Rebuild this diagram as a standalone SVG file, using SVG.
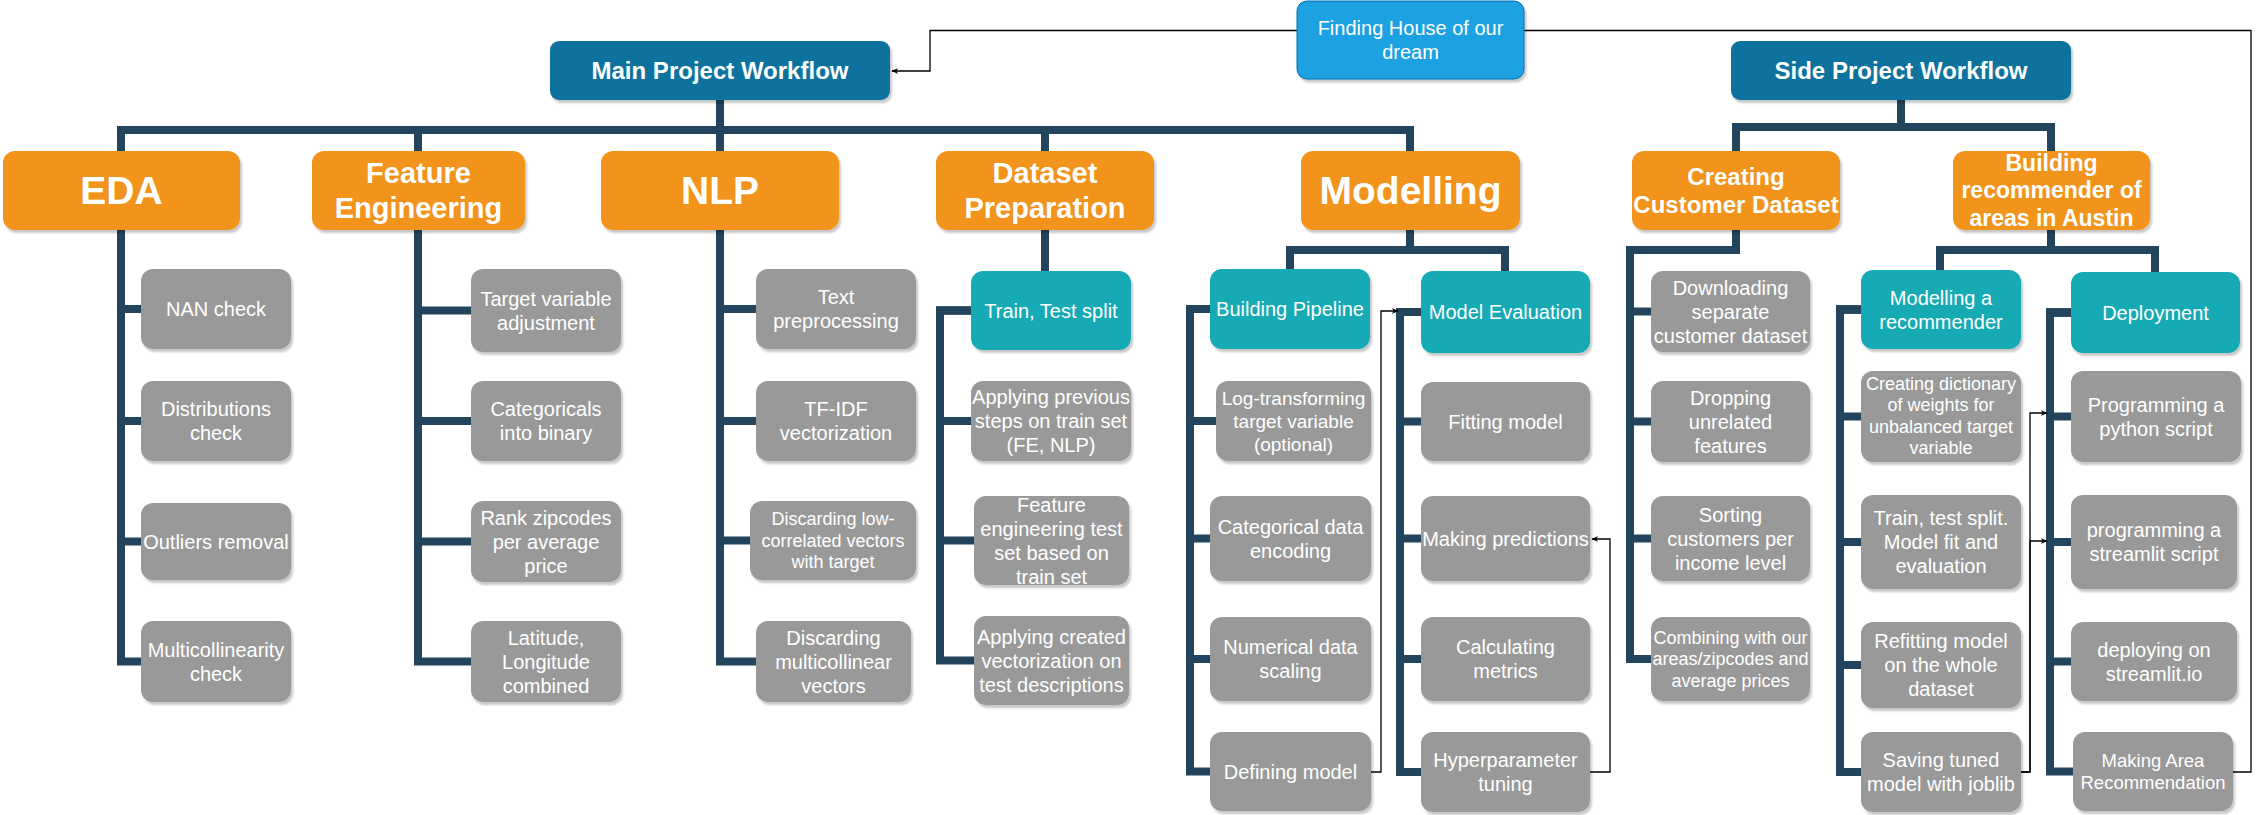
<svg xmlns="http://www.w3.org/2000/svg" width="2259" height="815" viewBox="0 0 2259 815">
<style>
.n{stroke:none;filter:url(#sh)}
.or{fill:#F2931E}
.bl{fill:#10739E}
.te{fill:#12AAB5}
.gr{fill:#999999}
.lb{fill:#1BA1E2;stroke:#006EAF;stroke-width:1}
text{font-family:"Liberation Sans",Arial,sans-serif;fill:#FFFFFF;text-anchor:middle}
.b{font-weight:bold}
.s20{font-size:20px}
.s18{font-size:18px}
.big{font-size:39px;font-weight:bold}
.mid{font-size:29px;font-weight:bold}
.hd{font-size:24px;font-weight:bold}
.c{fill:none;stroke:#23445D;stroke-width:8;stroke-linejoin:miter}
.th{fill:none;stroke:#000;stroke-width:1.3}
</style>
<defs>
<filter id="sh" x="-10%" y="-10%" width="125%" height="130%">
<feDropShadow dx="2" dy="3" stdDeviation="1.2" flood-color="#000" flood-opacity="0.22"/>
</filter>
<marker id="ar" viewBox="0 0 10 10" refX="9" refY="5" markerWidth="7" markerHeight="7" orient="auto" markerUnits="userSpaceOnUse">
<path d="M0,1 L10,5 L0,9 L3,5 Z" fill="#000"/>
</marker>
</defs>

<g id="connectors">
<!-- main tree -->
<path class="c" d="M720,100 V130 H121 V151"/>
<path class="c" d="M720,100 V130 H418 V151"/>
<path class="c" d="M720,100 V151"/>
<path class="c" d="M720,100 V130 H1045 V151"/>
<path class="c" d="M720,100 V130 H1410 V151"/>
<!-- side tree -->
<path class="c" d="M1901,100 V127 H1736 V151"/>
<path class="c" d="M1901,100 V127 H2051 V151"/>
<!-- EDA -->
<path class="c" d="M121,230 V309 H141"/>
<path class="c" d="M121,230 V421 H141"/>
<path class="c" d="M121,230 V541.5 H141"/>
<path class="c" d="M121,230 V661.5 H141"/>
<!-- FE -->
<path class="c" d="M418,230 V310.5 H471"/>
<path class="c" d="M418,230 V421 H471"/>
<path class="c" d="M418,230 V541.5 H471"/>
<path class="c" d="M418,230 V661.5 H471"/>
<!-- NLP -->
<path class="c" d="M720,230 V309 H756"/>
<path class="c" d="M720,230 V421 H756"/>
<path class="c" d="M720,230 V540.5 H750"/>
<path class="c" d="M720,230 V661.5 H756"/>
<!-- Dataset prep -->
<path class="c" d="M1045,230 V271"/>
<path class="c" d="M971,310.5 H940 V421 H971"/>
<path class="c" d="M971,310.5 H940 V540.5 H974"/>
<path class="c" d="M971,310.5 H940 V660.5 H974"/>
<!-- Modelling -->
<path class="c" d="M1410,230 V250 H1290 V269"/>
<path class="c" d="M1410,230 V250 H1505 V271"/>
<path class="c" d="M1210,309 H1190 V421 H1216"/>
<path class="c" d="M1210,309 H1190 V538.5 H1210"/>
<path class="c" d="M1210,309 H1190 V659 H1210"/>
<path class="c" d="M1210,309 H1190 V771.5 H1210"/>
<path class="c" d="M1421,312 H1400 V421.5 H1421"/>
<path class="c" d="M1421,312 H1400 V538.5 H1421"/>
<path class="c" d="M1421,312 H1400 V659 H1421"/>
<path class="c" d="M1421,312 H1400 V772 H1421"/>
<!-- Creating customer dataset -->
<path class="c" d="M1736,230 V250 H1630 V311.5 H1651"/>
<path class="c" d="M1736,230 V250 H1630 V421.5 H1651"/>
<path class="c" d="M1736,230 V250 H1630 V538.5 H1651"/>
<path class="c" d="M1736,230 V250 H1630 V659 H1651"/>
<!-- Building recommender -->
<path class="c" d="M2051,230 V250 H1940 V270"/>
<path class="c" d="M2051,230 V250 H2155 V272"/>
<path class="c" d="M1861,309.5 H1840 V416.5 H1861"/>
<path class="c" d="M1861,309.5 H1840 V542 H1861"/>
<path class="c" d="M1861,309.5 H1840 V665 H1861"/>
<path class="c" d="M1861,309.5 H1840 V772 H1861"/>
<path class="c" d="M2071,312.5 H2050 V416.5 H2071"/>
<path class="c" d="M2071,312.5 H2050 V542 H2071"/>
<path class="c" d="M2071,312.5 H2050 V661.5 H2071"/>
<path class="c" d="M2071,312.5 H2050 V771.5 H2073"/>
<!-- thin arrows -->
<path class="th" d="M1371,772 H1381 V311 H1398" marker-end="url(#ar)"/>
<path class="th" d="M1590,772 H1610 V539 H1592" marker-end="url(#ar)"/>
<path class="th" d="M2021,772 H2030 V413 H2047" marker-end="url(#ar)"/>
<path class="th" d="M2021,772 H2030 V541 H2047" marker-end="url(#ar)"/>
<path class="th" d="M2233,772 H2251 V30.5 H1524"/>
<path class="th" d="M1297,30.5 H930 V71 H892" marker-end="url(#ar)"/>
</g>

<g id="finding-house"><rect class="n lb" x="1297" y="1" width="227" height="78" rx="10"/>
<text class="s20" x="1410.5" y="34.5">Finding House of our</text><text class="s20" x="1410.5" y="58.5">dream</text></g>
<g id="main-workflow"><rect class="n bl" x="550" y="41" width="340" height="59" rx="9"/>
<text class="hd" x="720" y="79">Main Project Workflow</text></g>
<g id="side-workflow"><rect class="n bl" x="1731" y="41" width="340" height="59" rx="9"/>
<text class="hd" x="1901" y="79">Side Project Workflow</text></g>

<g id="eda"><rect class="n or" x="3" y="151" width="237" height="79" rx="12"/>
<text class="big" x="121.5" y="204">EDA</text></g>
<g id="feature-engineering"><rect class="n or" x="312" y="151" width="213" height="79" rx="12"/>
<text class="mid" x="418.5" y="183">Feature</text><text class="mid" x="418.5" y="218">Engineering</text></g>
<g id="nlp"><rect class="n or" x="601" y="151" width="238" height="79" rx="12"/>
<text class="big" x="720" y="204">NLP</text></g>
<g id="dataset-preparation"><rect class="n or" x="936" y="151" width="218" height="79" rx="12"/>
<text class="mid" x="1045" y="183">Dataset</text><text class="mid" x="1045" y="218">Preparation</text></g>
<g id="modelling"><rect class="n or" x="1301" y="151" width="219" height="79" rx="12"/>
<text class="big" x="1410.5" y="204">Modelling</text></g>
<g id="creating-customer-dataset"><rect class="n or" x="1632" y="151" width="208" height="79" rx="12"/>
<text class="hd" x="1736" y="184.5">Creating</text><text class="hd" x="1736" y="213.3">Customer Dataset</text></g>
<g id="building-recommender"><rect class="n or" x="1953" y="151" width="197" height="79" rx="12"/>
<text class="hd" style="font-size:23px" x="2051.5" y="170.5">Building</text><text class="hd" style="font-size:23px" x="2051.5" y="198">recommender of</text><text class="hd" style="font-size:23px" x="2051.5" y="225.5">areas in Austin</text></g>

<!-- EDA children -->
<g id="nan-check"><rect class="n gr" x="141" y="269" width="150" height="80" rx="12"/>
<text class="s20" x="216" y="316">NAN check</text></g>
<g id="distributions-check"><rect class="n gr" x="141" y="381" width="150" height="80" rx="12"/>
<text class="s20" x="216" y="416">Distributions</text><text class="s20" x="216" y="440">check</text></g>
<g id="outliers-removal"><rect class="n gr" x="141" y="503" width="150" height="77" rx="12"/>
<text class="s20" x="216" y="548.5">Outliers removal</text></g>
<g id="multicollinearity-check"><rect class="n gr" x="141" y="621" width="150" height="81" rx="12"/>
<text class="s20" x="216" y="656.5">Multicollinearity</text><text class="s20" x="216" y="680.5">check</text></g>

<!-- FE children -->
<g id="target-variable"><rect class="n gr" x="471" y="269" width="150" height="83" rx="12"/>
<text class="s20" x="546" y="305.5">Target variable</text><text class="s20" x="546" y="329.5">adjustment</text></g>
<g id="categoricals-binary"><rect class="n gr" x="471" y="381" width="150" height="80" rx="12"/>
<text class="s20" x="546" y="416">Categoricals</text><text class="s20" x="546" y="440">into binary</text></g>
<g id="rank-zipcodes"><rect class="n gr" x="471" y="501" width="150" height="81" rx="12"/>
<text class="s20" x="546" y="524.5">Rank zipcodes</text><text class="s20" x="546" y="548.5">per average</text><text class="s20" x="546" y="572.5">price</text></g>
<g id="lat-long"><rect class="n gr" x="471" y="621" width="150" height="81" rx="12"/>
<text class="s20" x="546" y="644.5">Latitude,</text><text class="s20" x="546" y="668.5">Longitude</text><text class="s20" x="546" y="692.5">combined</text></g>

<!-- NLP children -->
<g id="text-preprocessing"><rect class="n gr" x="756" y="269" width="160" height="80" rx="12"/>
<text class="s20" x="836" y="304">Text</text><text class="s20" x="836" y="328">preprocessing</text></g>
<g id="tfidf"><rect class="n gr" x="756" y="381" width="160" height="80" rx="12"/>
<text class="s20" x="836" y="416">TF-IDF</text><text class="s20" x="836" y="440">vectorization</text></g>
<g id="discarding-low"><rect class="n gr" x="750" y="501" width="166" height="79" rx="12"/>
<text class="s18" x="833" y="525.2">Discarding low-</text><text class="s18" x="833" y="546.8">correlated vectors</text><text class="s18" x="833" y="568.4">with target</text></g>
<g id="discarding-multi"><rect class="n gr" x="756" y="621" width="155" height="81" rx="12"/>
<text class="s20" x="833.5" y="644.5">Discarding</text><text class="s20" x="833.5" y="668.5">multicollinear</text><text class="s20" x="833.5" y="692.5">vectors</text></g>

<!-- Dataset prep children -->
<g id="train-test-split"><rect class="n te" x="971" y="271" width="160" height="79" rx="12"/>
<text class="s20" x="1051" y="317.5">Train, Test split</text></g>
<g id="applying-previous"><rect class="n gr" x="971" y="381" width="160" height="80" rx="12"/>
<text class="s20" x="1051" y="404">Applying previous</text><text class="s20" x="1051" y="428">steps on train set</text><text class="s20" x="1051" y="452">(FE, NLP)</text></g>
<g id="feature-eng-test"><rect class="n gr" x="974" y="496" width="155" height="89" rx="12"/>
<text class="s20" x="1051.5" y="512">Feature</text><text class="s20" x="1051.5" y="536">engineering test</text><text class="s20" x="1051.5" y="560">set based on</text><text class="s20" x="1051.5" y="584">train set</text></g>
<g id="applying-created"><rect class="n gr" x="974" y="616" width="155" height="89" rx="12"/>
<text class="s20" x="1051.5" y="643.5">Applying created</text><text class="s20" x="1051.5" y="667.5">vectorization on</text><text class="s20" x="1051.5" y="691.5">test descriptions</text></g>

<!-- Building pipeline -->
<g id="building-pipeline"><rect class="n te" x="1210" y="269" width="160" height="80" rx="12"/>
<text class="s20" x="1290" y="316">Building Pipeline</text></g>
<g id="log-transform"><rect class="n gr" x="1216" y="381" width="155" height="80" rx="12"/>
<text class="s20" style="font-size:19px" x="1293.5" y="404.6">Log-transforming</text><text class="s20" style="font-size:19px" x="1293.5" y="427.6">target variable</text><text class="s20" style="font-size:19px" x="1293.5" y="450.6">(optional)</text></g>
<g id="categorical-encoding"><rect class="n gr" x="1210" y="496" width="161" height="85" rx="12"/>
<text class="s20" x="1290.5" y="533.5">Categorical data</text><text class="s20" x="1290.5" y="557.5">encoding</text></g>
<g id="numerical-scaling"><rect class="n gr" x="1210" y="617" width="161" height="84" rx="12"/>
<text class="s20" x="1290.5" y="654">Numerical data</text><text class="s20" x="1290.5" y="678">scaling</text></g>
<g id="defining-model"><rect class="n gr" x="1210" y="732" width="161" height="79" rx="12"/>
<text class="s20" x="1290.5" y="778.5">Defining model</text></g>

<!-- Model evaluation -->
<g id="model-evaluation"><rect class="n te" x="1421" y="271" width="169" height="82" rx="12"/>
<text class="s20" x="1505.5" y="319">Model Evaluation</text></g>
<g id="fitting-model"><rect class="n gr" x="1421" y="382" width="169" height="79" rx="12"/>
<text class="s20" x="1505.5" y="428.5">Fitting model</text></g>
<g id="making-predictions"><rect class="n gr" x="1421" y="496" width="169" height="85" rx="12"/>
<text class="s20" x="1505.5" y="545.5">Making predictions</text></g>
<g id="calculating-metrics"><rect class="n gr" x="1421" y="617" width="169" height="84" rx="12"/>
<text class="s20" x="1505.5" y="654">Calculating</text><text class="s20" x="1505.5" y="678">metrics</text></g>
<g id="hyperparameter-tuning"><rect class="n gr" x="1421" y="732" width="169" height="80" rx="12"/>
<text class="s20" x="1505.5" y="767">Hyperparameter</text><text class="s20" x="1505.5" y="791">tuning</text></g>

<!-- Customer dataset children -->
<g id="downloading"><rect class="n gr" x="1651" y="271" width="159" height="81" rx="12"/>
<text class="s20" x="1730.5" y="294.5">Downloading</text><text class="s20" x="1730.5" y="318.5">separate</text><text class="s20" x="1730.5" y="342.5">customer dataset</text></g>
<g id="dropping"><rect class="n gr" x="1651" y="381" width="159" height="81" rx="12"/>
<text class="s20" x="1730.5" y="404.5">Dropping</text><text class="s20" x="1730.5" y="428.5">unrelated</text><text class="s20" x="1730.5" y="452.5">features</text></g>
<g id="sorting"><rect class="n gr" x="1651" y="496" width="159" height="85" rx="12"/>
<text class="s20" x="1730.5" y="521.5">Sorting</text><text class="s20" x="1730.5" y="545.5">customers per</text><text class="s20" x="1730.5" y="569.5">income level</text></g>
<g id="combining"><rect class="n gr" x="1651" y="617" width="159" height="84" rx="12"/>
<text class="s18" x="1730.5" y="643.7">Combining with our</text><text class="s18" x="1730.5" y="665.3">areas/zipcodes and</text><text class="s18" x="1730.5" y="686.9">average prices</text></g>

<!-- Recommender -->
<g id="modelling-recommender"><rect class="n te" x="1861" y="270" width="160" height="79" rx="12"/>
<text class="s20" x="1941" y="304.5">Modelling a</text><text class="s20" x="1941" y="328.5">recommender</text></g>
<g id="creating-dictionary"><rect class="n gr" x="1861" y="371" width="160" height="91" rx="12"/>
<text class="s18" x="1941" y="389.5">Creating dictionary</text><text class="s18" x="1941" y="411">of weights for</text><text class="s18" x="1941" y="432.5">unbalanced target</text><text class="s18" x="1941" y="454">variable</text></g>
<g id="train-test-fit"><rect class="n gr" x="1861" y="495" width="160" height="94" rx="12"/>
<text class="s20" x="1941" y="525">Train, test split.</text><text class="s20" x="1941" y="549">Model fit and</text><text class="s20" x="1941" y="573">evaluation</text></g>
<g id="refitting"><rect class="n gr" x="1861" y="622" width="160" height="86" rx="12"/>
<text class="s20" x="1941" y="648">Refitting model</text><text class="s20" x="1941" y="672">on the whole</text><text class="s20" x="1941" y="696">dataset</text></g>
<g id="saving-model"><rect class="n gr" x="1861" y="732" width="160" height="80" rx="12"/>
<text class="s20" x="1941" y="767">Saving tuned</text><text class="s20" x="1941" y="791">model with joblib</text></g>

<!-- Deployment -->
<g id="deployment"><rect class="n te" x="2071" y="272" width="169" height="81" rx="12"/>
<text class="s20" x="2155.5" y="319.5">Deployment</text></g>
<g id="python-script"><rect class="n gr" x="2071" y="371" width="170" height="91" rx="12"/>
<text class="s20" x="2156" y="411.5">Programming a</text><text class="s20" x="2156" y="435.5">python script</text></g>
<g id="streamlit-script"><rect class="n gr" x="2071" y="495" width="166" height="94" rx="12"/>
<text class="s20" x="2154" y="537">programming a</text><text class="s20" x="2154" y="561">streamlit script</text></g>
<g id="deploying"><rect class="n gr" x="2071" y="622" width="166" height="79" rx="12"/>
<text class="s20" x="2154" y="656.5">deploying on</text><text class="s20" x="2154" y="680.5">streamlit.io</text></g>
<g id="making-area"><rect class="n gr" x="2073" y="732" width="160" height="79" rx="12"/>
<text class="s18" style="font-size:18.5px" x="2153" y="767">Making Area</text><text class="s18" style="font-size:18.5px" x="2153" y="789">Recommendation</text></g>
</svg>
